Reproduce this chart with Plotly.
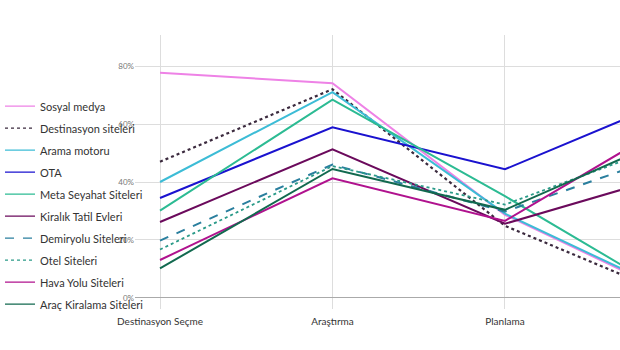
import plotly.graph_objects as go

categories = ["Destinasyon Seçme", "Araştırma", "Planlama", "Rezervasyon"]

series_names = [
    "Sosyal medya", "Destinasyon siteleri", "Arama motoru", "OTA",
    "Meta Seyahat Siteleri", "Kiralık Tatil Evleri", "Demiryolu Siteleri",
    "Otel Siteleri", "Hava Yolu Siteleri", "Araç Kiralama Siteleri",
]

sosyal_medya = [77.7, 74.1, 28.7, 0.5]
destinasyon_siteleri = [47.0, 72.0, 24.9, 0.0]
arama_motoru = [40.0, 71.0, 29.1, 1.0]
ota = [34.5, 58.9, 44.4, 69.3]
meta_seyahat = [30.1, 68.4, 35.1, 0.0]
kiralik_tatil = [26.2, 51.3, 25.6, 43.0]
demiryolu = [19.8, 46.0, 29.8, 50.6]
otel = [16.7, 45.5, 32.2, 54.3]
hava_yolu = [13.1, 41.3, 26.6, 61.7]
arac_kiralama = [10.2, 44.5, 30.4, 56.5]

values = [sosyal_medya, destinasyon_siteleri, arama_motoru, ota, meta_seyahat,
          kiralik_tatil, demiryolu, otel, hava_yolu, arac_kiralama]

colors = ["#ee82e6", "#3b2a3e", "#3cbcd6", "#1a12cf", "#2cbb93",
          "#6b0a5c", "#2a7f9e", "#2a9a88", "#b0128e", "#12694f"]
dashes = ["solid", "dot", "solid", "solid", "solid",
          "solid", "dash", "dot", "solid", "solid"]
widths = [2, 2.2, 2, 2, 2, 2, 2, 1.8, 2, 2]

fig = go.Figure()
for name, vals, c, d, w in zip(series_names, values, colors, dashes, widths):
    fig.add_trace(go.Scatter(
        x=categories, y=vals, name=name, mode="lines",
        line=dict(color=c, dash=d, width=w),
        legendgroup=name, showlegend=False,
    ))
    # legend-only entry with a thin line, like the reference legend keys
    fig.add_trace(go.Scatter(
        x=[None], y=[None], name=name, mode="lines",
        line=dict(color=c, dash=d, width=1.2),
        legendgroup=name, showlegend=True, hoverinfo="skip",
    ))

fig.update_layout(
    width=620, height=350,
    margin=dict(l=135, r=0, t=35, b=41),
    paper_bgcolor="white", plot_bgcolor="white",
    font=dict(family="Lato", color="#333333"),
    showlegend=True,
    legend=dict(
        x=-135 / 485, xanchor="left", y=0.793, yanchor="top",
        font=dict(size=11, color="#333333"),
        tracegroupgap=3, bgcolor="rgba(0,0,0,0)",
    ),
    xaxis=dict(
        type="category", range=[-0.145, 2.667],
        showgrid=True, gridcolor="#dddddd", gridwidth=1,
        tickfont=dict(size=10, color="#333333"),
        ticks="", showline=False, zeroline=False,
        ticklabelstandoff=5,
    ),
    yaxis=dict(
        range=[-3.8, 90.7], tickvals=[0, 20, 40, 60, 80],
        ticktext=["0%", "20%", "40%", "60%", "80%"],
        showgrid=True, gridcolor="#dddddd", gridwidth=1,
        zeroline=True, zerolinecolor="#aaaaaa", zerolinewidth=1,
        tickfont=dict(size=8, color="#777777"),
        ticks="", showline=False,
    ),
)

fig.write_html("out.html")
